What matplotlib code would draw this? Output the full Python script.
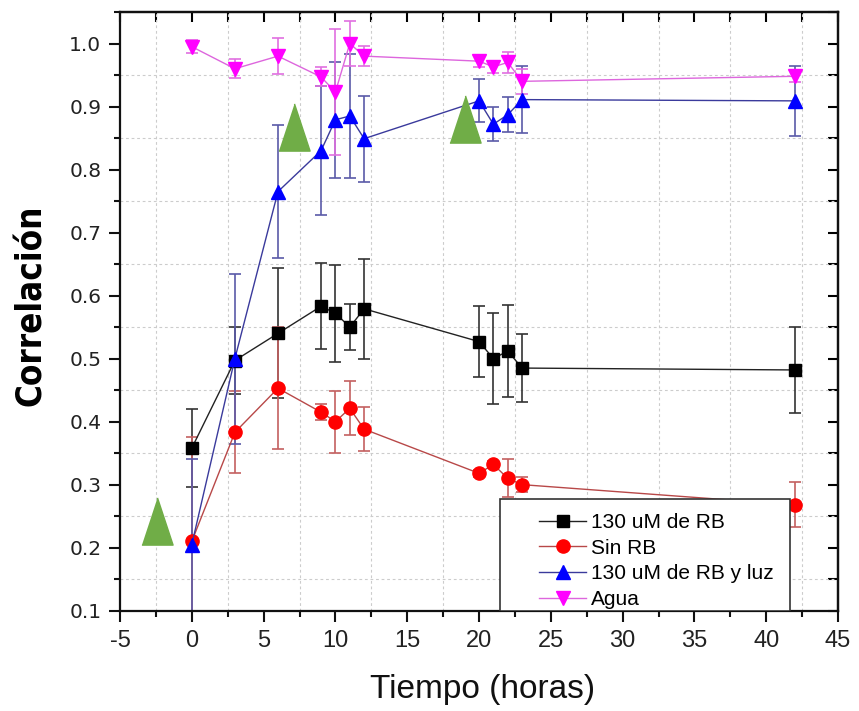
import matplotlib
matplotlib.use("Agg")
from matplotlib import pyplot as plt
from matplotlib.lines import Line2D
from matplotlib.patches import Rectangle
from matplotlib.ticker import MultipleLocator, FormatStrFormatter

plt.rcParams['font.family'] = ['Liberation Sans', 'DejaVu Sans']
plt.rcParams['axes.unicode_minus'] = False

horas = [0, 3, 6, 9, 10, 11, 12, 20, 21, 22, 23, 42]

rb130 = [0.358, 0.497, 0.540, 0.583, 0.572, 0.550, 0.579, 0.527, 0.500, 0.512, 0.485, 0.482]
rb130Err = [0.062, 0.053, 0.103, 0.068, 0.077, 0.037, 0.079, 0.056, 0.072, 0.073, 0.054, 0.068]

sinRb = [0.210, 0.383, 0.453, 0.415, 0.400, 0.421, 0.388, 0.318, 0.332, 0.310, 0.300, 0.268]
sinRbErr = [0.165, 0.065, 0.097, 0.013, 0.049, 0.043, 0.035, 0.006, 0.006, 0.030, 0.012, 0.036]

rbLuz = [0.205, 0.500, 0.765, 0.830, 0.879, 0.885, 0.849, 0.909, 0.872, 0.887, 0.911, 0.909]
rbLuzErr = [0.135, 0.135, 0.105, 0.102, 0.092, 0.098, 0.068, 0.034, 0.027, 0.028, 0.053, 0.056]

agua = [0.995, 0.960, 0.980, 0.947, 0.923, 1.000, 0.980, 0.972, 0.963, 0.970, 0.940, 0.948]
aguaErr = [0.010, 0.015, 0.028, 0.015, 0.100, 0.036, 0.016, 0.010, 0.010, 0.017, 0.020, 0.009]

# green arrows marking when light was applied
flechasX = [-2.4, 7.1, 19.0]
flechasY = [0.242, 0.868, 0.880]

series = [
    ("130 uM de RB", rb130, rb130Err, "s", "#000000", "#222222", "#333333", 8.5),
    ("Sin RB", sinRb, sinRbErr, "o", "#ff0000", "#b84848", "#c46060", 9.5),
    ("130 uM de RB y luz", rbLuz, rbLuzErr, "^", "#0000ff", "#3a3a9c", "#5a5aa8", 10),
    ("Agua", agua, aguaErr, "v", "#ff00ff", "#dd66dd", "#e070e0", 10),
]

fig = plt.figure(figsize=(8.59, 7.11), dpi=100)
ax = fig.add_axes([0.1397, 0.1411, 0.8359, 0.842])

handles = []
for name, vals, errs, mk, face, lineCol, errCol, ms in series:
    ax.errorbar(horas, vals, yerr=errs, fmt='none', ecolor=errCol, elinewidth=1.2,
                capsize=4, capthick=1.2, zorder=2)
    ax.plot(horas, vals, color=lineCol, lw=1.0, marker=mk, ms=ms,
            mfc=face, mec=face, zorder=3)
    handles.append(Line2D([], [], color=lineCol, lw=1.0, marker=mk, ms=ms,
                          mfc=face, mec=face, label=name))

tri = [(-0.33, -0.5), (0.33, -0.5), (0.0, 0.5)]
ax.plot(flechasX, flechasY, ls='none', marker=tri, ms=34, mfc="#70ad47",
        mec="#70ad47", zorder=4)

ax.set_xlim(-5, 45)
ax.set_ylim(0.1, 1.05)
ax.xaxis.set_major_locator(MultipleLocator(5))
ax.xaxis.set_minor_locator(MultipleLocator(2.5))
ax.yaxis.set_major_locator(MultipleLocator(0.1))
ax.yaxis.set_minor_locator(MultipleLocator(0.05))
ax.yaxis.set_major_formatter(FormatStrFormatter('%.1f'))

ax.grid(which='minor', color='#cccccc', lw=0.8, ls=(0, (2.5, 2.5)))
ax.set_axisbelow(True)

for sp in ax.spines.values():
    sp.set_linewidth(1.6)
    sp.set_color('#111111')

ax.tick_params(which='major', direction='out', length=8, width=1.5, colors='#111111')
ax.tick_params(which='minor', direction='out', length=4.5, width=1.5, colors='#111111')
ax.tick_params(axis='x', labelsize=17, pad=6, labelcolor='#222222')
ax.tick_params(axis='y', labelsize=14.5, pad=5.5, labelcolor='#222222')
for lbl in ax.get_yticklabels():
    lbl.set_family('DejaVu Sans')

# inward ticks on top and right
top = ax.secondary_xaxis('top')
top.xaxis.set_major_locator(MultipleLocator(5))
top.xaxis.set_minor_locator(MultipleLocator(2.5))
top.tick_params(which='both', direction='in', length=7, width=1.5, labeltop=False)
top.spines['top'].set_linewidth(1.6)
right = ax.secondary_yaxis('right')
right.yaxis.set_major_locator(MultipleLocator(0.1))
right.yaxis.set_minor_locator(MultipleLocator(0.05))
right.tick_params(which='both', direction='in', length=7, width=1.5, labelright=False)
right.spines['right'].set_linewidth(1.6)

ax.set_xlabel("Tiempo (horas)", fontsize=24, color='#111111')
ax.xaxis.set_label_coords(0.505, -0.105)
ax.set_ylabel("Correlación", fontsize=25, fontweight='bold', family='DejaVu Sans',
              fontstretch='condensed', color='#000000')
ax.yaxis.set_label_coords(-0.10, 0.51)

# legend box sits on the bottom axis
ax.add_patch(Rectangle((0.529, 0.0), 0.404, 0.186, transform=ax.transAxes,
                       facecolor='white', edgecolor='#333333', lw=1.2, zorder=5))
leg = ax.legend(handles=handles, loc='upper left', bbox_to_anchor=(0.584, 0.163),
                frameon=False, fontsize=15, handlelength=2.26, handletextpad=0.2,
                labelspacing=0.32, borderpad=0, borderaxespad=0)
leg.set_zorder(6)

fig.savefig("out.png", dpi=100)
